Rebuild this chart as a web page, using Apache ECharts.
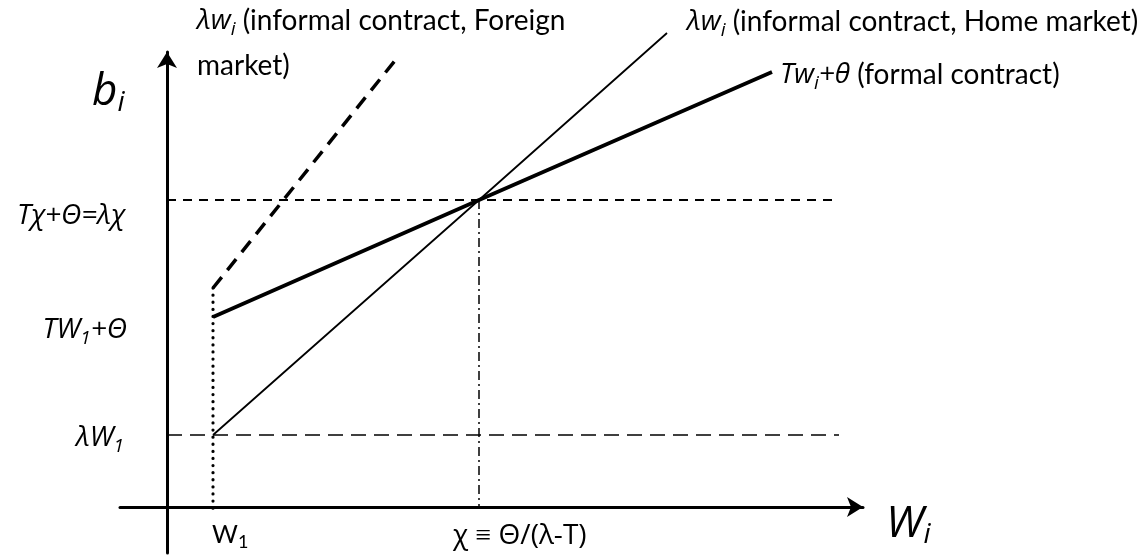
<!DOCTYPE html>
<html><head><meta charset="utf-8">
<script src="https://cdn.jsdelivr.net/npm/echarts@6/dist/echarts.min.js"></script>
<style>html,body{margin:0;padding:0;background:#fff}#c{width:1145px;height:556px}</style>
</head><body><div id="c"></div>
<script>
// Key values (abstract units)
var W1 = 4.6, CHI = 31.2;
var LAMBDA_W1 = 7.2, TW1_THETA = 19.0, T_CHI = 30.7;
var homeX = [W1, CHI, 50.0];
var homeY = [LAMBDA_W1, T_CHI, 47.4];
var formalX = [W1, CHI, 60.5];
var formalY = [TW1_THETA, T_CHI, 43.5];
var foreignX = [W1, 23.0];
var foreignY = [21.9, 44.9];
var refTopX = [0, 66.6];
var refLowX = [0, 67.2];
var dottedY = [21.9, -0.6];
var dashDotY = [T_CHI, 0];

function pairs(xs, ys){ return xs.map(function(x,i){ return [x, ys[i]]; }); }

var chart = echarts.init(document.getElementById('c'));
var mathFont = 'italic 28px "Open Sans"';
var txtFont = '28px Lato';
var sub = function(size){ return {font: 'italic '+size+'px "Open Sans"', padding:[size*0.9,0,0,0]}; };

chart.setOption({
  animation: false,
  grid: {left: 120, right: 282, top: 52, bottom: 3},
  xAxis: {type:'value', min:-4.7, max:69.6,
    axisLine:{onZero:true, lineStyle:{color:'#000', width:3}, symbol:['none','arrow'], symbolSize:[15,16]},
    axisTick:{show:false}, axisLabel:{show:false}, splitLine:{show:false}},
  yAxis: {type:'value', min:-4.6, max:45.5,
    axisLine:{onZero:true, lineStyle:{color:'#000', width:3}, symbol:['none','arrow'], symbolSize:[15,16]},
    axisTick:{show:false}, axisLabel:{show:false}, splitLine:{show:false}},
  series: [
    {type:'line', name:'ref top', data: pairs(refTopX, [T_CHI, T_CHI]), symbol:'none', clip:false,
      lineStyle:{color:'#000', width:2, type:[9,7]}},
    {type:'line', name:'ref low', data: pairs(refLowX, [LAMBDA_W1, LAMBDA_W1]), symbol:'none', clip:false,
      lineStyle:{color:'#000', width:1.5, type:[15,8]}},
    {type:'line', name:'W1 dotted', data: pairs([W1, W1], dottedY), symbol:'none', clip:false,
      lineStyle:{color:'#000', width:3.2, type:[0.1,7], cap:'round'}},
    {type:'line', name:'chi dashdot', data: pairs([CHI, CHI], dashDotY), symbol:'none', clip:false,
      lineStyle:{color:'#000', width:1.5, type:[9,4,2,4]}},
    {type:'line', name:'home', data: pairs(homeX, homeY), symbol:'none', clip:false,
      lineStyle:{color:'#000', width:1.8}},
    {type:'line', name:'formal', data: pairs(formalX, formalY), symbol:'none', clip:false,
      lineStyle:{color:'#000', width:3.8}},
    {type:'line', name:'foreign', data: pairs(foreignX, foreignY), symbol:'none', clip:false,
      lineStyle:{color:'#000', width:3.5, type:[14,9]}}
  ],
  graphic: [
    {type:'text', x:197, y:21, style:{text:'{m|λw}{s|i}{t| (informal contract, Foreign}', textVerticalAlign:'middle', fill:'#000',
      rich:{m:{font:mathFont}, s:sub(19), t:{font:txtFont}}}},
    {type:'text', x:197, y:66, style:{text:'market)', textVerticalAlign:'middle', font:txtFont, fill:'#000'}},
    {type:'text', x:687, y:22, style:{text:'{m|λw}{s|i}{t| (informal contract, Home market)}', textVerticalAlign:'middle', fill:'#000',
      rich:{m:{font:mathFont}, s:sub(19), t:{font:txtFont}}}},
    {type:'text', x:780, y:75, style:{text:'{m|Tw}{s|i}{m|+θ}{t| (formal contract)}', textVerticalAlign:'middle', fill:'#000',
      rich:{m:{font:mathFont}, s:sub(19), t:{font:txtFont}}}},
    {type:'text', x:92, y:92, style:{text:'{b|b}{s|i}', textVerticalAlign:'middle', fill:'#000',
      rich:{b:{font:'italic 44px "Open Sans"'}, s:{font:'italic 28px "Open Sans"', padding:[22,0,0,0]}}}},
    {type:'text', x:886, y:524, style:{text:'{b|W}{s|i}', textVerticalAlign:'middle', fill:'#000',
      rich:{b:{font:'italic 44px "Open Sans"'}, s:{font:'italic 28px "Open Sans"', padding:[22,0,0,0]}}}},
    {type:'text', x:125, y:216, style:{text:'Tχ+Θ=λχ', textAlign:'right', textVerticalAlign:'middle', font:mathFont, fill:'#000'}},
    {type:'text', x:127, y:330, style:{text:'{m|TW}{s|1}{m|+Θ}', textAlign:'right', textVerticalAlign:'middle', fill:'#000',
      rich:{m:{font:mathFont}, s:sub(19)}}},
    {type:'text', x:124, y:438, style:{text:'{m|λW}{s|1}', textAlign:'right', textVerticalAlign:'middle', fill:'#000',
      rich:{m:{font:mathFont}, s:sub(19)}}},
    {type:'text', x:212, y:535, style:{text:'{t|W}{s|1}', textVerticalAlign:'middle', fill:'#000',
      rich:{t:{font:'25px Lato'}, s:{font:'18px Lato', padding:[14,0,0,0]}}}},
    {type:'text', x:453, y:536, style:{text:'χ ≡ Θ/(λ-T)', textVerticalAlign:'middle', font:'28px "Open Sans"', fill:'#000'}}
  ]
});
</script></body></html>
